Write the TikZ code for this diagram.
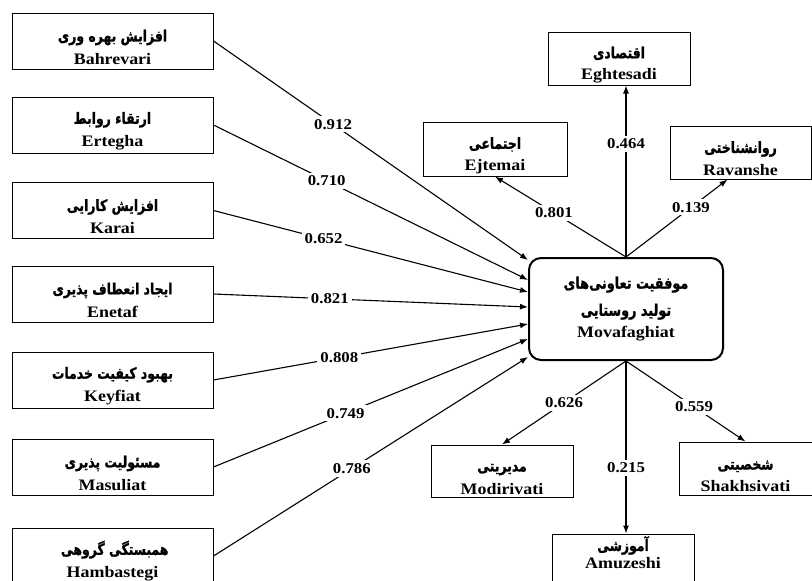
\documentclass[tikz,border=0pt]{standalone}
\usepackage{fontspec}
\setmainfont{Liberation Serif}
\newfontfamily\fafont[Script=Arabic, FakeStretch=0.8, FakeBold=1.2]{DejaVu Sans}
\newfontfamily\lafont[FakeStretch=1.12]{Liberation Serif}
\TeXXeTstate=1
\usetikzlibrary{calc, arrows.meta, positioning}

\tikzset{
    box/.style={draw, line width=1pt, minimum width=142pt, minimum height=53pt, align=center, inner sep=2pt},
    lbox/.style={box, minimum width=201pt, minimum height=56pt},
    wt/.style={fill=white, inner sep=3pt, font=\lafont\bfseries\fontsize{15}{16}\selectfont},
    arr/.style={line width=1.1pt, -{Latex[length=8pt, width=6pt]}}
}

\begin{document}
\begin{tikzpicture}[x=1pt, y=-1pt]
    \newcommand{\boxtext}[3][24pt]{{\fafont\bfseries\fontsize{15.5}{17}\selectfont\rule{0pt}{#1}\beginR #2\endR}\\[7pt]{\lafont\bfseries\fontsize{16}{17}\selectfont #3}}
    \fill[white] (0,0) rectangle (812,581);
    \useasboundingbox (0,0) rectangle (812,581);
    \foreach \n/\y/\f in 
    {Bahrevari/41/افزایش بهره وری,
        Ertegha/125/ارتقاء روابط,
        Karai/210.5/افزایش کارایی,
        Enetaf/294/ایجاد انعطاف پذیری,
        Keyfiat/380/بهبود کیفیت خدمات,
        Masuliat/467/مسئولیت پذیری,
        Hambastegi/556/همبستگی گروهی
    }
    {
        \node[lbox] (n\n) at (112.5,\y) {\boxtext{\f}{\n}};
    };
    \node[box, rounded corners=12pt, line width=2pt, minimum width=194pt, minimum height=102pt] (nMovafaghiat) at (626,309)
        {{\fafont\bfseries\fontsize{16}{17}\selectfont\beginR موفقیت تعاونی‌های\endR}\\[10pt]
         {\fafont\bfseries\fontsize{16}{17}\selectfont\beginR تولید روستایی\endR}\\[6pt]
         {\lafont\bfseries\fontsize{16}{17}\selectfont Movafaghiat}};
    \node[box] (nEghtesadi) at (619,58.5) {\boxtext{اقتصادی}{Eghtesadi}};
    \node[box, minimum width=144pt] (nEjtemai) at (495,149.5) {\boxtext{اجتماعی}{Ejtemai}};
    \node[box, minimum width=141pt] (nRavanshe) at (740.5,152.5) {\boxtext{روانشناختی}{Ravanshe}};
    \node[box, minimum height=52pt] (nModirivati) at (502,471) {\boxtext{مدیریتی}{Modirivati}};
    \node[box, minimum width=133pt] (nShakhsivati) at (745.5,468.5) {\boxtext{شخصیتی}{Shakhsivati}};
    \node[box] (nAmuzeshi) at (623,560.5)
        {{\fafont\bfseries\fontsize{15.5}{17}\selectfont\beginR آموزشی\endR}\\[2pt]
         {\lafont\bfseries\fontsize{16}{17}\selectfont Amuzeshi}\\[4pt]};
    \foreach \n/\s/\w/\p in 
    {Bahrevari/49/0.912/0.38,
        Ertegha/29/0.710/0.36,
        Karai/17/0.652/0.35,
        Enetaf/2/0.821/0.37,
        Keyfiat/-15/0.808/0.40,
        Masuliat/-30/0.749/0.42,
        Hambastegi/-48/0.786/0.44
    }
    {
        \draw[arr] (n\n.east) -- ([yshift=\s pt]nMovafaghiat.west) node[wt, pos=\p] {\w};
    };
    \draw[arr] (nMovafaghiat.north) -- (nMovafaghiat.north |- nEghtesadi.south) node[wt, pos=0.66] {0.464};
    \draw[arr] (nMovafaghiat.north) -- (nEjtemai.south) node[wt, pos=0.55] {0.801};
    \draw[arr] (nMovafaghiat.north) -- ([xshift=-13pt]nRavanshe.south) node[wt, pos=0.64] {0.139};
    \draw[arr] (nMovafaghiat.south) -- (nModirivati.north) node[wt, pos=0.5] {0.626};
    \draw[arr] (nMovafaghiat.south) -- (nMovafaghiat.south |- nAmuzeshi.north) node[wt, pos=0.62] {0.215};
    \draw[arr] (nMovafaghiat.south) -- (nShakhsivati.north) node[wt, pos=0.57] {0.559};
\end{tikzpicture}
\end{document}
